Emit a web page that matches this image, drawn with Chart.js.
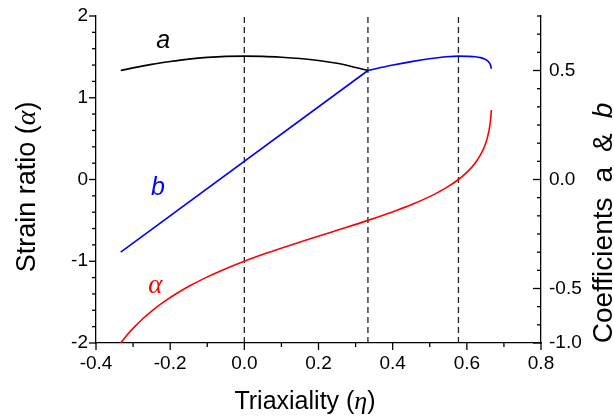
<!DOCTYPE html>
<html><head><meta charset="utf-8">
<script src="https://cdn.jsdelivr.net/npm/chart.js@4.4.0/dist/chart.umd.min.js"></script>
<style>html,body{margin:0;padding:0;background:#fff;}#wrap{width:614px;height:419px;}</style>
</head><body><div id="wrap"><canvas id="c" width="614" height="419"></canvas></div>
<script>
// Strain ratio alpha vs triaxiality (left axis)
const etaAlpha = [-0.3333,-0.3157,-0.2957,-0.2731,-0.2474,-0.2182,-0.1849,-0.1469,-0.1037,-0.0548,0,0.0605,0.126,0.1949,0.2649,0.3333,0.3974,0.4545,0.504,0.5447,0.5774,0.6028,0.6222,0.6367,0.6472,0.6547,0.6598,0.6633,0.6653,0.666];
const alphaValues = [-2,-1.9,-1.8,-1.7,-1.6,-1.5,-1.4,-1.3,-1.2,-1.1,-1.0,-0.9,-0.8,-0.7,-0.6,-0.5,-0.4,-0.3,-0.2,-0.1,0,0.1,0.2,0.3,0.4,0.5,0.6,0.7,0.8,0.85];
// Coefficient a (right axis)
const etaA = [-0.3333,-0.3,-0.25,-0.2,-0.15,-0.1,-0.05,0,0.05,0.1,0.15,0.2,0.25,0.3,0.3333];
const aValues = [0.500,0.512,0.528,0.541,0.552,0.560,0.565,0.566,0.565,0.561,0.555,0.546,0.533,0.514,0.500];
// Coefficient b (right axis): linear part and curved part
const etaBLine = [-0.3333,0.3333];
const bLineValues = [-0.3333,0.500];
const etaBCurve = [0.3333,0.3974,0.4545,0.504,0.5447,0.5774,0.6028,0.6222,0.6367,0.6472,0.6547,0.6598,0.6633,0.6653,0.666];
const bCurveValues = [0.500,0.524,0.542,0.555,0.563,0.566,0.565,0.563,0.559,0.553,0.546,0.537,0.527,0.515,0.508];
// Reference triaxialities (dashed lines)
const dashedEta = [0, 0.3333, 0.5774];
// Ticks
const xTickValues = [-0.4,-0.2,0,0.2,0.4,0.6,0.8];
const xTickLabels = ['-0.4','-0.2','0.0','0.2','0.4','0.6','0.8'];
const yTickValues = [-2,-1,0,1,2];
const yTickLabels = ['-2','-1','0','1','2'];
const y2TickValues = [-0.75,-0.5,0,0.5];
const y2TickLabels = ['-1.0','-0.5','0.0','0.5'];

const pts = (xs, ys) => xs.map((v,i)=>({x:v,y:ys[i]}));
const SANS = 'Liberation Sans, Arial, sans-serif';
const SERIF = 'Liberation Serif, Times New Roman, serif';

const datasets = [];
dashedEta.forEach(e => datasets.push({data:[{x:e,y:-2},{x:e,y:2}], yAxisID:'y', borderColor:'#222', borderWidth:1.3, borderDash:[6,4], pointRadius:0, showLine:true, order:10}));
datasets.push({data:pts(etaAlpha,alphaValues), yAxisID:'y', borderColor:'#ff0000', borderWidth:1.6, pointRadius:0, showLine:true, cubicInterpolationMode:'monotone', order:1});
datasets.push({data:pts(etaA,aValues), yAxisID:'y2', borderColor:'#000000', borderWidth:1.6, pointRadius:0, showLine:true, cubicInterpolationMode:'monotone', order:1});
datasets.push({data:pts(etaBLine,bLineValues), yAxisID:'y2', borderColor:'#0000ff', borderWidth:1.6, pointRadius:0, showLine:true, tension:0, order:1});
datasets.push({data:pts(etaBCurve,bCurveValues), yAxisID:'y2', borderColor:'#0000ff', borderWidth:1.6, pointRadius:0, showLine:true, cubicInterpolationMode:'monotone', order:1});

function drawRich(ctx, segs, x, y, rot) {
  ctx.save();
  ctx.translate(x, y); ctx.rotate(rot);
  ctx.textBaseline = 'alphabetic'; ctx.textAlign = 'left';
  let total = 0;
  segs.forEach(s => { ctx.font = s.font; s.w = ctx.measureText(s.text).width; total += s.w + (s.gap||0); });
  let cx = -total/2;
  segs.forEach(s => { ctx.font = s.font; ctx.fillStyle = s.color||'#000'; ctx.fillText(s.text, cx, 0); cx += s.w + (s.gap||0); });
  ctx.restore();
}

const decor = {
  id:'decor',
  afterDraw(chart){
    const ctx = chart.ctx, ca = chart.chartArea;
    const sx = chart.scales.x, sy = chart.scales.y, sy2 = chart.scales.y2;
    ctx.save();
    ctx.strokeStyle = '#000'; ctx.lineWidth = 1.3;
    const seg = (x1,y1,x2,y2)=>{ctx.beginPath();ctx.moveTo(x1,y1);ctx.lineTo(x2,y2);ctx.stroke();};
    // x ticks (outward, down)
    for (let i=0;i<=12;i++){ const v=-0.4+i*0.1; const p=sx.getPixelForValue(v); seg(p,ca.bottom,p,ca.bottom+(i%2===0?7:4)); }
    // left y ticks (outward, left)
    for (let i=0;i<=20;i++){ const v=-2+i*0.2; const p=sy.getPixelForValue(v); seg(ca.left,p,ca.left-(i%5===0?7:4),p); }
    // right y ticks (inward, left)
    for (let i=0;i<=18;i++){ const v=-0.75+i*(1/12); const p=sy2.getPixelForValue(v); const major = (i===0||i===3||i===9||i===15); seg(ca.right,p,ca.right-(major?8:4),p); }
    ctx.restore();
    // curve labels
    ctx.save();
    ctx.textAlign='center'; ctx.textBaseline='middle';
    ctx.font = 'italic 25px '+SANS; ctx.fillStyle='#000';
    ctx.fillText('a', sx.getPixelForValue(-0.219), sy.getPixelForValue(1.69));
    ctx.fillStyle='#0000ff';
    ctx.fillText('b', sx.getPixelForValue(-0.233), sy.getPixelForValue(-0.11));
    ctx.font = 'italic 27px '+SERIF; ctx.fillStyle='#ff0000';
    ctx.fillText('\u03B1', sx.getPixelForValue(-0.24), sy.getPixelForValue(-1.30));
    ctx.restore();
    // axis titles
    drawRich(ctx, [{text:'Triaxiality (', font:'25px '+SANS},{text:'\u03B7', font:'italic 26px '+SERIF},{text:')', font:'25px '+SANS}], 305, 409, 0);
    drawRich(ctx, [{text:'Strain ratio (', font:'27px '+SANS},{text:'\u03B1', font:'italic 28px '+SERIF},{text:')', font:'27px '+SANS}], 35, 187, -Math.PI/2);
    drawRich(ctx, [{text:'Coefficients', font:'28px '+SANS, gap:15},{text:'a', font:'28px '+SANS, gap:15},{text:'&', font:'28px '+SANS, gap:15},{text:'b', font:'italic 28px '+SANS}], 612, 223, -Math.PI/2);
  }
};

const tickFont = {family:SANS, size:19};
new Chart(document.getElementById('c'), {
  type:'scatter',
  data:{datasets},
  options:{
    responsive:false, animation:false, devicePixelRatio:1,
    layout:{padding:{top:16,left:0,right:0,bottom:0}},
    plugins:{legend:{display:false}, tooltip:{enabled:false}},
    scales:{
      x:{type:'linear', position:'bottom', min:-0.4, max:0.8,
         afterBuildTicks:s=>{s.ticks = xTickValues.map(v=>({value:v}));},
         afterFit:s=>{s.height=76;},
         ticks:{autoSkip:false, maxRotation:0, font:tickFont, color:'#000', padding:1, callback:(v)=>xTickLabels[xTickValues.findIndex(t=>Math.abs(t-v)<1e-6)]},
         grid:{display:false}, border:{display:true,color:'#000',width:1.3}},
      y:{type:'linear', position:'left', min:-2, max:2,
         afterBuildTicks:s=>{s.ticks = yTickValues.map(v=>({value:v}));},
         afterFit:s=>{s.width=96;},
         ticks:{autoSkip:false, font:tickFont, color:'#000', padding:0, callback:(v)=>yTickLabels[yTickValues.findIndex(t=>Math.abs(t-v)<1e-6)]},
         grid:{display:false}, border:{display:true,color:'#000',width:1.3}},
      y2:{type:'linear', position:'right', min:-0.75, max:0.75,
         afterBuildTicks:s=>{s.ticks = y2TickValues.map(v=>({value:v}));},
         afterFit:s=>{s.width=73;},
         ticks:{autoSkip:false, font:tickFont, color:'#000', padding:0, callback:(v)=>y2TickLabels[y2TickValues.findIndex(t=>Math.abs(t-v)<1e-6)]},
         grid:{display:false}, border:{display:true,color:'#000',width:1.3}}
    }
  },
  plugins:[decor]
});
</script></body></html>
